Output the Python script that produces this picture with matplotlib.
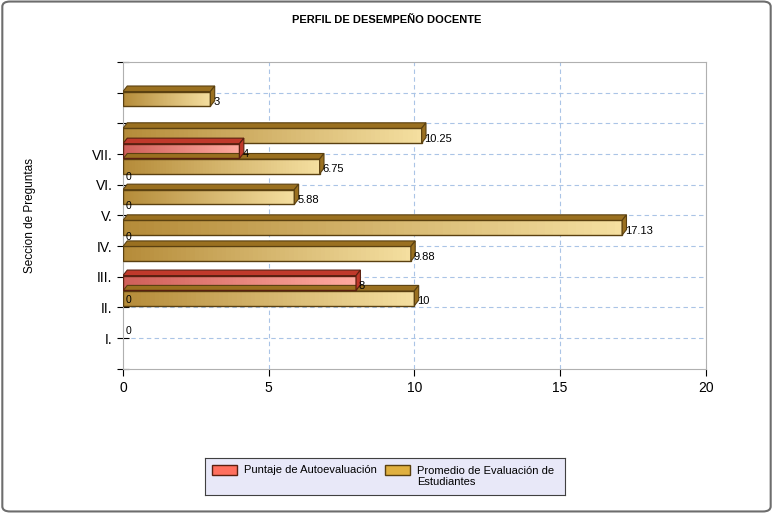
import matplotlib
matplotlib.use("Agg")
import matplotlib.pyplot as plt
import numpy as np
from matplotlib.patches import Polygon, Rectangle, FancyBboxPatch
from matplotlib.colors import LinearSegmentedColormap

plt.rcParams['font.family'] = ['Liberation Sans', 'DejaVu Sans']

ytick_pos = [1, 2, 3, 4, 5, 6, 7, 8, 9, 10]
ytick_labels = ["I.", "II.", "III.", "IV.", "V.", "VI.", "VII.", "", "", ""]
gold_pos = [2.3, 3.75, 4.6, 5.6, 6.6, 7.6, 8.8]
gold_vals = [10, 9.88, 17.13, 5.88, 6.75, 10.25, 3]
gold_labels = ["10", "9.88", "17.13", "5.88", "6.75", "10.25", "3"]
red_pos = [2.8, 7.1]
red_vals = [8, 4]
red_labels = ["8", "4"]
zero_pos = [1.25, 2.25, 4.3, 5.3, 6.25]

fig = plt.figure(figsize=(7.73, 5.13), dpi=100)
fig.patches.append(FancyBboxPatch((0.003, 0.003), 0.994, 0.994, boxstyle="round,pad=0,rounding_size=0.01",
                                  transform=fig.transFigure, fc="white", ec="#6d6d6d", lw=1.5, zorder=-10))
ax = fig.add_axes([0.159, 0.281, 0.754, 0.598])
for s in ax.spines.values():
    s.set_color("#b0b0b0")
for x in [5, 10, 15]:
    ax.axvline(x, color="#aac4e6", ls=(0, (4, 3)), lw=0.8, zorder=0)
for y in ytick_pos[:-1]:
    ax.axhline(y, color="#aac4e6", ls=(0, (4, 3)), lw=0.8, zorder=0)

h = 0.48
dx, dy = 0.15, 0.18
def bar(y, v, c0, c1, top, edge):
    cmap = LinearSegmentedColormap.from_list("g", [c0, c1])
    grad = np.linspace(0, 1, 64).reshape(1, -1)
    ax.imshow(grad, cmap=cmap, extent=[0, v, y - h / 2, y + h / 2], aspect="auto", zorder=3)
    ax.add_patch(Rectangle((0, y - h / 2), v, h, fill=False, ec=edge, lw=1, zorder=4))
    ax.add_patch(Polygon([(0, y + h / 2), (v, y + h / 2), (v + dx, y + h / 2 + dy), (dx, y + h / 2 + dy)],
                         fc=top, ec=edge, lw=0.8, zorder=4))
    ax.add_patch(Polygon([(v, y - h / 2), (v + dx, y - h / 2 + dy), (v + dx, y + h / 2 + dy), (v, y + h / 2)],
                         fc=top, ec=edge, lw=0.8, zorder=4))

for p, v, l in zip(gold_pos, gold_vals, gold_labels):
    bar(p, v, "#b58c3a", "#f5dfa0", "#9a7020", "#5a4010")
    ax.text(v + 0.1, p - 0.1, l, fontsize=8, va="center", zorder=5)
for p, v, l in zip(red_pos, red_vals, red_labels):
    bar(p, v, "#d0605a", "#ffaaa0", "#c0392b", "#5a2010")
    ax.text(v + 0.1, p - 0.1, l, fontsize=8, va="center", zorder=5)
for p in zero_pos:
    ax.text(0.1, p, "0", fontsize=7.5, va="center", zorder=5)

ax.set_xlim(0, 20)
ax.set_ylim(0, 10)
ax.set_xticks([0, 5, 10, 15, 20])
ax.set_yticks([0] + ytick_pos)
ax.set_yticklabels([""] + ytick_labels, fontsize=10)
ax.tick_params(axis="y", length=8, direction="inout")
ax.tick_params(axis="x", length=5, labelsize=10)
ax.set_ylabel("Seccion de Preguntas", fontsize=8.5, labelpad=40)
fig.text(0.5, 0.955, "PERFIL DE DESEMPEÑO DOCENTE", ha="center", fontsize=8, fontweight="bold")

lax = fig.add_axes([0.265, 0.035, 0.466, 0.072])
lax.set_xticks([]); lax.set_yticks([])
lax.set_facecolor("#e8e8f8")
for s in lax.spines.values():
    s.set_color("#404040")
lax.set_xlim(0, 1); lax.set_ylim(0, 1)
lax.add_patch(Rectangle((0.02, 0.55), 0.07, 0.25, fc="#ff6f5e", ec="#5a2010"))
lax.text(0.11, 0.68, "Puntaje de Autoevaluación", fontsize=8, va="center")
lax.add_patch(Rectangle((0.5, 0.55), 0.07, 0.25, fc="#e0b040", ec="#5a4010"))
lax.text(0.59, 0.5, "Promedio de Evaluación de\nEstudiantes", fontsize=8, va="center")

fig.savefig("out.png", dpi=100)
